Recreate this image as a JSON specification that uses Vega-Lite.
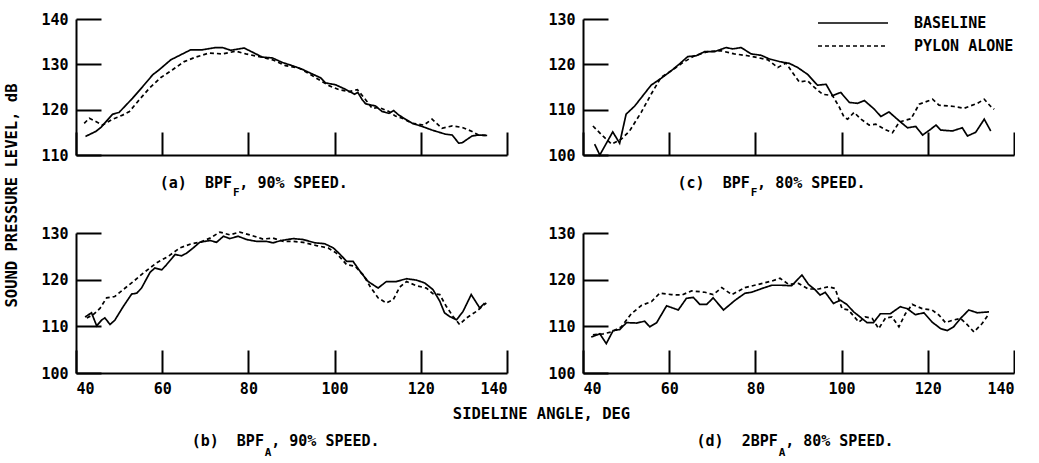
{
 "$schema": "https://vega.github.io/schema/vega-lite/v6.json",
 "background": "white",
 "padding": {"left": 4, "top": 12, "right": 0, "bottom": 0},
 "config": {
  "view": {"stroke": null},
  "font": "DejaVu Sans Mono",
  "axis": {"domainColor": "black", "domainWidth": 2, "tickColor": "black", "tickWidth": 2, "labelColor": "black", "labelFont": "DejaVu Sans Mono", "labelFontSize": 15, "labelFontWeight": "bold", "grid": false, "titleColor": "black", "titleFont": "DejaVu Sans Mono", "titleFontSize": 15.5, "titleFontWeight": "bold"},
  "text": {"font": "DejaVu Sans Mono", "fontWeight": "bold", "fontSize": 15, "color": "black"}
 },
 "data": {"values": [
  {"p":"a","s":"BASELINE","x":42.2,"y":114.1},{"p":"a","s":"BASELINE","x":44.6,"y":115.2},{"p":"a","s":"BASELINE","x":45.8,"y":116.1},{"p":"a","s":"BASELINE","x":48.5,"y":119.0},{"p":"a","s":"BASELINE","x":50.0,"y":119.4},{"p":"a","s":"BASELINE","x":53.1,"y":122.5},{"p":"a","s":"BASELINE","x":55.4,"y":125.0},{"p":"a","s":"BASELINE","x":57.8,"y":127.7},{"p":"a","s":"BASELINE","x":59.3,"y":128.8},{"p":"a","s":"BASELINE","x":62.0,"y":131.0},{"p":"a","s":"BASELINE","x":64.3,"y":132.1},{"p":"a","s":"BASELINE","x":66.6,"y":133.2},{"p":"a","s":"BASELINE","x":69.3,"y":133.2},{"p":"a","s":"BASELINE","x":72.4,"y":133.7},{"p":"a","s":"BASELINE","x":74.0,"y":133.7},{"p":"a","s":"BASELINE","x":75.9,"y":133.1},{"p":"a","s":"BASELINE","x":79.0,"y":133.6},{"p":"a","s":"BASELINE","x":80.9,"y":132.7},{"p":"a","s":"BASELINE","x":83.2,"y":131.6},{"p":"a","s":"BASELINE","x":85.6,"y":131.4},{"p":"a","s":"BASELINE","x":87.9,"y":130.4},{"p":"a","s":"BASELINE","x":90.2,"y":129.7},{"p":"a","s":"BASELINE","x":92.5,"y":128.9},{"p":"a","s":"BASELINE","x":95.2,"y":127.7},{"p":"a","s":"BASELINE","x":96.8,"y":127.0},{"p":"a","s":"BASELINE","x":97.9,"y":125.9},{"p":"a","s":"BASELINE","x":100.2,"y":125.5},{"p":"a","s":"BASELINE","x":102.5,"y":124.5},{"p":"a","s":"BASELINE","x":104.6,"y":123.4},{"p":"a","s":"BASELINE","x":105.4,"y":123.8},{"p":"a","s":"BASELINE","x":106.4,"y":122.2},{"p":"a","s":"BASELINE","x":107.2,"y":121.3},{"p":"a","s":"BASELINE","x":109.5,"y":120.8},{"p":"a","s":"BASELINE","x":111.0,"y":119.6},{"p":"a","s":"BASELINE","x":112.6,"y":119.2},{"p":"a","s":"BASELINE","x":113.7,"y":119.8},{"p":"a","s":"BASELINE","x":114.9,"y":118.8},{"p":"a","s":"BASELINE","x":118.0,"y":117.0},{"p":"a","s":"BASELINE","x":120.3,"y":116.3},{"p":"a","s":"BASELINE","x":122.6,"y":115.5},{"p":"a","s":"BASELINE","x":125.7,"y":114.6},{"p":"a","s":"BASELINE","x":127.3,"y":114.4},{"p":"a","s":"BASELINE","x":128.8,"y":112.6},{"p":"a","s":"BASELINE","x":129.6,"y":112.7},{"p":"a","s":"BASELINE","x":131.9,"y":114.2},{"p":"a","s":"BASELINE","x":133.4,"y":114.4},{"p":"a","s":"BASELINE","x":135.4,"y":114.3},
  {"p":"a","s":"PYLON ALONE","x":41.9,"y":117.0},{"p":"a","s":"PYLON ALONE","x":43.1,"y":118.1},{"p":"a","s":"PYLON ALONE","x":44.6,"y":117.4},{"p":"a","s":"PYLON ALONE","x":46.2,"y":116.6},{"p":"a","s":"PYLON ALONE","x":48.5,"y":117.9},{"p":"a","s":"PYLON ALONE","x":50.8,"y":118.8},{"p":"a","s":"PYLON ALONE","x":52.4,"y":119.6},{"p":"a","s":"PYLON ALONE","x":54.7,"y":122.2},{"p":"a","s":"PYLON ALONE","x":57.0,"y":124.7},{"p":"a","s":"PYLON ALONE","x":59.7,"y":127.1},{"p":"a","s":"PYLON ALONE","x":62.4,"y":128.8},{"p":"a","s":"PYLON ALONE","x":65.1,"y":130.6},{"p":"a","s":"PYLON ALONE","x":67.8,"y":131.6},{"p":"a","s":"PYLON ALONE","x":70.9,"y":132.5},{"p":"a","s":"PYLON ALONE","x":74.0,"y":132.3},{"p":"a","s":"PYLON ALONE","x":77.1,"y":132.9},{"p":"a","s":"PYLON ALONE","x":79.4,"y":132.3},{"p":"a","s":"PYLON ALONE","x":82.5,"y":131.7},{"p":"a","s":"PYLON ALONE","x":85.6,"y":131.0},{"p":"a","s":"PYLON ALONE","x":88.6,"y":129.7},{"p":"a","s":"PYLON ALONE","x":91.7,"y":129.2},{"p":"a","s":"PYLON ALONE","x":94.1,"y":127.9},{"p":"a","s":"PYLON ALONE","x":96.4,"y":126.6},{"p":"a","s":"PYLON ALONE","x":98.7,"y":125.3},{"p":"a","s":"PYLON ALONE","x":101.0,"y":124.4},{"p":"a","s":"PYLON ALONE","x":103.3,"y":124.0},{"p":"a","s":"PYLON ALONE","x":105.3,"y":124.4},{"p":"a","s":"PYLON ALONE","x":107.2,"y":122.2},{"p":"a","s":"PYLON ALONE","x":108.7,"y":120.3},{"p":"a","s":"PYLON ALONE","x":110.3,"y":120.5},{"p":"a","s":"PYLON ALONE","x":112.6,"y":119.6},{"p":"a","s":"PYLON ALONE","x":114.1,"y":118.6},{"p":"a","s":"PYLON ALONE","x":115.7,"y":118.1},{"p":"a","s":"PYLON ALONE","x":118.0,"y":117.0},{"p":"a","s":"PYLON ALONE","x":120.7,"y":116.6},{"p":"a","s":"PYLON ALONE","x":122.6,"y":117.9},{"p":"a","s":"PYLON ALONE","x":124.9,"y":115.9},{"p":"a","s":"PYLON ALONE","x":127.3,"y":116.4},{"p":"a","s":"PYLON ALONE","x":129.6,"y":116.1},{"p":"a","s":"PYLON ALONE","x":131.9,"y":115.2},{"p":"a","s":"PYLON ALONE","x":133.4,"y":114.4},{"p":"a","s":"PYLON ALONE","x":135.4,"y":114.3},
  {"p":"c","s":"BASELINE","x":42.7,"y":102.4},{"p":"c","s":"BASELINE","x":43.9,"y":100.0},{"p":"c","s":"BASELINE","x":46.9,"y":105.1},{"p":"c","s":"BASELINE","x":48.5,"y":102.6},{"p":"c","s":"BASELINE","x":50.0,"y":109.0},{"p":"c","s":"BASELINE","x":52.0,"y":110.8},{"p":"c","s":"BASELINE","x":53.9,"y":113.1},{"p":"c","s":"BASELINE","x":55.8,"y":115.4},{"p":"c","s":"BASELINE","x":58.1,"y":116.9},{"p":"c","s":"BASELINE","x":60.5,"y":118.6},{"p":"c","s":"BASELINE","x":62.4,"y":120.1},{"p":"c","s":"BASELINE","x":64.3,"y":121.7},{"p":"c","s":"BASELINE","x":66.3,"y":121.9},{"p":"c","s":"BASELINE","x":68.2,"y":122.8},{"p":"c","s":"BASELINE","x":70.5,"y":122.8},{"p":"c","s":"BASELINE","x":73.2,"y":123.7},{"p":"c","s":"BASELINE","x":74.7,"y":123.4},{"p":"c","s":"BASELINE","x":76.7,"y":123.7},{"p":"c","s":"BASELINE","x":79.0,"y":122.3},{"p":"c","s":"BASELINE","x":81.3,"y":122.0},{"p":"c","s":"BASELINE","x":83.2,"y":121.2},{"p":"c","s":"BASELINE","x":85.6,"y":120.6},{"p":"c","s":"BASELINE","x":87.9,"y":120.2},{"p":"c","s":"BASELINE","x":89.8,"y":119.3},{"p":"c","s":"BASELINE","x":92.1,"y":117.8},{"p":"c","s":"BASELINE","x":94.4,"y":115.4},{"p":"c","s":"BASELINE","x":96.4,"y":115.6},{"p":"c","s":"BASELINE","x":97.9,"y":113.1},{"p":"c","s":"BASELINE","x":99.8,"y":113.8},{"p":"c","s":"BASELINE","x":101.8,"y":111.6},{"p":"c","s":"BASELINE","x":103.7,"y":111.4},{"p":"c","s":"BASELINE","x":105.3,"y":112.0},{"p":"c","s":"BASELINE","x":107.6,"y":110.1},{"p":"c","s":"BASELINE","x":109.1,"y":108.5},{"p":"c","s":"BASELINE","x":111.0,"y":109.5},{"p":"c","s":"BASELINE","x":113.4,"y":107.5},{"p":"c","s":"BASELINE","x":115.3,"y":106.0},{"p":"c","s":"BASELINE","x":117.2,"y":106.3},{"p":"c","s":"BASELINE","x":118.8,"y":104.4},{"p":"c","s":"BASELINE","x":120.7,"y":105.7},{"p":"c","s":"BASELINE","x":121.9,"y":106.6},{"p":"c","s":"BASELINE","x":123.0,"y":105.5},{"p":"c","s":"BASELINE","x":125.7,"y":105.3},{"p":"c","s":"BASELINE","x":128.0,"y":106.0},{"p":"c","s":"BASELINE","x":129.2,"y":104.2},{"p":"c","s":"BASELINE","x":131.1,"y":105.0},{"p":"c","s":"BASELINE","x":133.1,"y":107.9},{"p":"c","s":"BASELINE","x":134.6,"y":105.3},
  {"p":"c","s":"PYLON ALONE","x":42.3,"y":106.4},{"p":"c","s":"PYLON ALONE","x":44.6,"y":104.2},{"p":"c","s":"PYLON ALONE","x":46.6,"y":102.4},{"p":"c","s":"PYLON ALONE","x":48.9,"y":103.5},{"p":"c","s":"PYLON ALONE","x":50.8,"y":105.3},{"p":"c","s":"PYLON ALONE","x":53.5,"y":109.4},{"p":"c","s":"PYLON ALONE","x":55.8,"y":113.4},{"p":"c","s":"PYLON ALONE","x":58.1,"y":117.1},{"p":"c","s":"PYLON ALONE","x":60.5,"y":118.6},{"p":"c","s":"PYLON ALONE","x":63.2,"y":120.4},{"p":"c","s":"PYLON ALONE","x":65.9,"y":121.9},{"p":"c","s":"PYLON ALONE","x":69.0,"y":122.8},{"p":"c","s":"PYLON ALONE","x":72.0,"y":123.0},{"p":"c","s":"PYLON ALONE","x":75.1,"y":122.3},{"p":"c","s":"PYLON ALONE","x":78.2,"y":121.9},{"p":"c","s":"PYLON ALONE","x":80.5,"y":121.5},{"p":"c","s":"PYLON ALONE","x":82.9,"y":121.0},{"p":"c","s":"PYLON ALONE","x":85.2,"y":119.3},{"p":"c","s":"PYLON ALONE","x":87.1,"y":120.3},{"p":"c","s":"PYLON ALONE","x":88.6,"y":118.2},{"p":"c","s":"PYLON ALONE","x":90.2,"y":116.1},{"p":"c","s":"PYLON ALONE","x":92.1,"y":116.4},{"p":"c","s":"PYLON ALONE","x":93.7,"y":114.9},{"p":"c","s":"PYLON ALONE","x":95.6,"y":113.4},{"p":"c","s":"PYLON ALONE","x":97.9,"y":113.1},{"p":"c","s":"PYLON ALONE","x":99.5,"y":110.5},{"p":"c","s":"PYLON ALONE","x":100.6,"y":108.3},{"p":"c","s":"PYLON ALONE","x":101.4,"y":107.9},{"p":"c","s":"PYLON ALONE","x":102.9,"y":109.4},{"p":"c","s":"PYLON ALONE","x":104.5,"y":107.9},{"p":"c","s":"PYLON ALONE","x":106.4,"y":106.6},{"p":"c","s":"PYLON ALONE","x":107.9,"y":106.8},{"p":"c","s":"PYLON ALONE","x":109.9,"y":105.7},{"p":"c","s":"PYLON ALONE","x":111.8,"y":104.9},{"p":"c","s":"PYLON ALONE","x":113.4,"y":107.3},{"p":"c","s":"PYLON ALONE","x":116.1,"y":108.0},{"p":"c","s":"PYLON ALONE","x":118.0,"y":111.2},{"p":"c","s":"PYLON ALONE","x":121.1,"y":112.3},{"p":"c","s":"PYLON ALONE","x":122.6,"y":111.0},{"p":"c","s":"PYLON ALONE","x":126.1,"y":110.7},{"p":"c","s":"PYLON ALONE","x":128.4,"y":110.3},{"p":"c","s":"PYLON ALONE","x":131.5,"y":111.4},{"p":"c","s":"PYLON ALONE","x":133.1,"y":112.3},{"p":"c","s":"PYLON ALONE","x":134.6,"y":110.7},{"p":"c","s":"PYLON ALONE","x":135.4,"y":110.1},
  {"p":"b","s":"BASELINE","x":42.1,"y":112.0},{"p":"b","s":"BASELINE","x":43.6,"y":112.9},{"p":"b","s":"BASELINE","x":44.8,"y":110.1},{"p":"b","s":"BASELINE","x":46.0,"y":111.4},{"p":"b","s":"BASELINE","x":46.7,"y":111.8},{"p":"b","s":"BASELINE","x":47.9,"y":110.4},{"p":"b","s":"BASELINE","x":49.0,"y":111.3},{"p":"b","s":"BASELINE","x":51.0,"y":114.3},{"p":"b","s":"BASELINE","x":52.9,"y":116.9},{"p":"b","s":"BASELINE","x":54.1,"y":117.1},{"p":"b","s":"BASELINE","x":55.2,"y":118.2},{"p":"b","s":"BASELINE","x":57.2,"y":121.6},{"p":"b","s":"BASELINE","x":58.3,"y":122.5},{"p":"b","s":"BASELINE","x":59.9,"y":122.1},{"p":"b","s":"BASELINE","x":61.0,"y":123.2},{"p":"b","s":"BASELINE","x":63.0,"y":125.4},{"p":"b","s":"BASELINE","x":64.5,"y":125.1},{"p":"b","s":"BASELINE","x":65.7,"y":125.7},{"p":"b","s":"BASELINE","x":67.2,"y":126.8},{"p":"b","s":"BASELINE","x":68.7,"y":128.0},{"p":"b","s":"BASELINE","x":71.1,"y":128.4},{"p":"b","s":"BASELINE","x":72.6,"y":128.0},{"p":"b","s":"BASELINE","x":74.2,"y":129.3},{"p":"b","s":"BASELINE","x":75.7,"y":128.8},{"p":"b","s":"BASELINE","x":77.6,"y":129.3},{"p":"b","s":"BASELINE","x":79.6,"y":128.6},{"p":"b","s":"BASELINE","x":81.9,"y":128.2},{"p":"b","s":"BASELINE","x":84.2,"y":128.2},{"p":"b","s":"BASELINE","x":85.7,"y":127.9},{"p":"b","s":"BASELINE","x":87.7,"y":128.4},{"p":"b","s":"BASELINE","x":90.4,"y":128.8},{"p":"b","s":"BASELINE","x":92.7,"y":128.6},{"p":"b","s":"BASELINE","x":95.4,"y":127.9},{"p":"b","s":"BASELINE","x":97.7,"y":127.7},{"p":"b","s":"BASELINE","x":99.7,"y":126.8},{"p":"b","s":"BASELINE","x":101.2,"y":125.5},{"p":"b","s":"BASELINE","x":102.8,"y":123.9},{"p":"b","s":"BASELINE","x":104.3,"y":123.9},{"p":"b","s":"BASELINE","x":106.2,"y":121.4},{"p":"b","s":"BASELINE","x":107.8,"y":119.6},{"p":"b","s":"BASELINE","x":110.1,"y":118.2},{"p":"b","s":"BASELINE","x":112.0,"y":119.6},{"p":"b","s":"BASELINE","x":114.3,"y":119.6},{"p":"b","s":"BASELINE","x":116.7,"y":120.2},{"p":"b","s":"BASELINE","x":119.0,"y":119.9},{"p":"b","s":"BASELINE","x":120.9,"y":119.3},{"p":"b","s":"BASELINE","x":122.8,"y":117.9},{"p":"b","s":"BASELINE","x":124.4,"y":115.4},{"p":"b","s":"BASELINE","x":125.5,"y":112.9},{"p":"b","s":"BASELINE","x":126.7,"y":112.1},{"p":"b","s":"BASELINE","x":128.3,"y":111.4},{"p":"b","s":"BASELINE","x":129.8,"y":113.2},{"p":"b","s":"BASELINE","x":131.7,"y":116.8},{"p":"b","s":"BASELINE","x":133.7,"y":113.9},{"p":"b","s":"BASELINE","x":134.8,"y":115.0},
  {"p":"b","s":"PYLON ALONE","x":42.5,"y":111.8},{"p":"b","s":"PYLON ALONE","x":44.0,"y":112.5},{"p":"b","s":"PYLON ALONE","x":45.6,"y":113.9},{"p":"b","s":"PYLON ALONE","x":47.1,"y":116.1},{"p":"b","s":"PYLON ALONE","x":49.0,"y":116.4},{"p":"b","s":"PYLON ALONE","x":51.0,"y":117.9},{"p":"b","s":"PYLON ALONE","x":53.3,"y":119.6},{"p":"b","s":"PYLON ALONE","x":55.6,"y":121.4},{"p":"b","s":"PYLON ALONE","x":58.7,"y":123.6},{"p":"b","s":"PYLON ALONE","x":61.4,"y":125.0},{"p":"b","s":"PYLON ALONE","x":64.1,"y":126.8},{"p":"b","s":"PYLON ALONE","x":66.8,"y":127.7},{"p":"b","s":"PYLON ALONE","x":68.7,"y":128.0},{"p":"b","s":"PYLON ALONE","x":71.1,"y":128.9},{"p":"b","s":"PYLON ALONE","x":73.4,"y":130.2},{"p":"b","s":"PYLON ALONE","x":75.7,"y":129.6},{"p":"b","s":"PYLON ALONE","x":78.0,"y":130.2},{"p":"b","s":"PYLON ALONE","x":80.3,"y":129.6},{"p":"b","s":"PYLON ALONE","x":83.4,"y":128.7},{"p":"b","s":"PYLON ALONE","x":85.7,"y":128.9},{"p":"b","s":"PYLON ALONE","x":88.1,"y":128.2},{"p":"b","s":"PYLON ALONE","x":90.4,"y":128.2},{"p":"b","s":"PYLON ALONE","x":92.7,"y":128.0},{"p":"b","s":"PYLON ALONE","x":95.8,"y":127.3},{"p":"b","s":"PYLON ALONE","x":98.5,"y":126.8},{"p":"b","s":"PYLON ALONE","x":100.4,"y":125.7},{"p":"b","s":"PYLON ALONE","x":102.8,"y":123.2},{"p":"b","s":"PYLON ALONE","x":104.7,"y":122.9},{"p":"b","s":"PYLON ALONE","x":106.6,"y":121.1},{"p":"b","s":"PYLON ALONE","x":108.2,"y":118.6},{"p":"b","s":"PYLON ALONE","x":110.1,"y":116.1},{"p":"b","s":"PYLON ALONE","x":112.0,"y":115.0},{"p":"b","s":"PYLON ALONE","x":113.6,"y":115.7},{"p":"b","s":"PYLON ALONE","x":115.1,"y":118.4},{"p":"b","s":"PYLON ALONE","x":116.7,"y":119.6},{"p":"b","s":"PYLON ALONE","x":119.0,"y":118.7},{"p":"b","s":"PYLON ALONE","x":121.3,"y":118.2},{"p":"b","s":"PYLON ALONE","x":122.8,"y":117.0},{"p":"b","s":"PYLON ALONE","x":124.4,"y":116.8},{"p":"b","s":"PYLON ALONE","x":125.9,"y":114.3},{"p":"b","s":"PYLON ALONE","x":127.5,"y":112.1},{"p":"b","s":"PYLON ALONE","x":129.0,"y":110.4},{"p":"b","s":"PYLON ALONE","x":130.6,"y":111.8},{"p":"b","s":"PYLON ALONE","x":132.9,"y":113.2},{"p":"b","s":"PYLON ALONE","x":135.2,"y":115.0},
  {"p":"d","s":"BASELINE","x":41.9,"y":107.7},{"p":"d","s":"BASELINE","x":43.9,"y":108.4},{"p":"d","s":"BASELINE","x":45.4,"y":106.3},{"p":"d","s":"BASELINE","x":47.0,"y":109.1},{"p":"d","s":"BASELINE","x":48.5,"y":109.3},{"p":"d","s":"BASELINE","x":50.1,"y":110.8},{"p":"d","s":"BASELINE","x":52.4,"y":110.7},{"p":"d","s":"BASELINE","x":54.3,"y":111.1},{"p":"d","s":"BASELINE","x":55.5,"y":109.9},{"p":"d","s":"BASELINE","x":57.1,"y":110.8},{"p":"d","s":"BASELINE","x":59.4,"y":114.4},{"p":"d","s":"BASELINE","x":62.1,"y":113.5},{"p":"d","s":"BASELINE","x":64.0,"y":116.0},{"p":"d","s":"BASELINE","x":65.6,"y":116.2},{"p":"d","s":"BASELINE","x":67.1,"y":114.7},{"p":"d","s":"BASELINE","x":68.7,"y":114.7},{"p":"d","s":"BASELINE","x":70.2,"y":116.1},{"p":"d","s":"BASELINE","x":72.6,"y":113.5},{"p":"d","s":"BASELINE","x":75.3,"y":115.6},{"p":"d","s":"BASELINE","x":77.6,"y":117.1},{"p":"d","s":"BASELINE","x":79.1,"y":117.3},{"p":"d","s":"BASELINE","x":81.5,"y":118.1},{"p":"d","s":"BASELINE","x":83.8,"y":118.8},{"p":"d","s":"BASELINE","x":86.1,"y":118.8},{"p":"d","s":"BASELINE","x":88.4,"y":118.7},{"p":"d","s":"BASELINE","x":90.8,"y":121.0},{"p":"d","s":"BASELINE","x":92.3,"y":119.0},{"p":"d","s":"BASELINE","x":93.9,"y":117.8},{"p":"d","s":"BASELINE","x":95.0,"y":116.7},{"p":"d","s":"BASELINE","x":96.2,"y":117.3},{"p":"d","s":"BASELINE","x":98.1,"y":114.9},{"p":"d","s":"BASELINE","x":99.7,"y":115.6},{"p":"d","s":"BASELINE","x":101.2,"y":114.7},{"p":"d","s":"BASELINE","x":102.8,"y":113.1},{"p":"d","s":"BASELINE","x":104.3,"y":112.0},{"p":"d","s":"BASELINE","x":105.9,"y":110.8},{"p":"d","s":"BASELINE","x":107.4,"y":110.8},{"p":"d","s":"BASELINE","x":109.0,"y":112.7},{"p":"d","s":"BASELINE","x":111.3,"y":112.7},{"p":"d","s":"BASELINE","x":113.6,"y":114.2},{"p":"d","s":"BASELINE","x":115.2,"y":113.8},{"p":"d","s":"BASELINE","x":117.1,"y":112.5},{"p":"d","s":"BASELINE","x":119.1,"y":112.9},{"p":"d","s":"BASELINE","x":121.0,"y":110.9},{"p":"d","s":"BASELINE","x":123.0,"y":109.5},{"p":"d","s":"BASELINE","x":124.5,"y":109.1},{"p":"d","s":"BASELINE","x":126.0,"y":109.9},{"p":"d","s":"BASELINE","x":127.6,"y":111.7},{"p":"d","s":"BASELINE","x":129.5,"y":113.5},{"p":"d","s":"BASELINE","x":131.5,"y":112.9},{"p":"d","s":"BASELINE","x":134.2,"y":113.1},
  {"p":"d","s":"PYLON ALONE","x":42.3,"y":108.2},{"p":"d","s":"PYLON ALONE","x":44.7,"y":108.4},{"p":"d","s":"PYLON ALONE","x":46.6,"y":108.8},{"p":"d","s":"PYLON ALONE","x":48.9,"y":109.9},{"p":"d","s":"PYLON ALONE","x":51.2,"y":112.7},{"p":"d","s":"PYLON ALONE","x":53.6,"y":114.5},{"p":"d","s":"PYLON ALONE","x":55.9,"y":115.3},{"p":"d","s":"PYLON ALONE","x":57.8,"y":117.1},{"p":"d","s":"PYLON ALONE","x":60.5,"y":116.8},{"p":"d","s":"PYLON ALONE","x":62.9,"y":116.7},{"p":"d","s":"PYLON ALONE","x":65.2,"y":117.6},{"p":"d","s":"PYLON ALONE","x":68.3,"y":117.3},{"p":"d","s":"PYLON ALONE","x":70.2,"y":116.8},{"p":"d","s":"PYLON ALONE","x":72.2,"y":118.3},{"p":"d","s":"PYLON ALONE","x":74.5,"y":116.8},{"p":"d","s":"PYLON ALONE","x":77.6,"y":118.3},{"p":"d","s":"PYLON ALONE","x":80.7,"y":119.0},{"p":"d","s":"PYLON ALONE","x":83.8,"y":119.7},{"p":"d","s":"PYLON ALONE","x":85.7,"y":120.3},{"p":"d","s":"PYLON ALONE","x":87.7,"y":119.0},{"p":"d","s":"PYLON ALONE","x":90.0,"y":119.2},{"p":"d","s":"PYLON ALONE","x":92.3,"y":118.0},{"p":"d","s":"PYLON ALONE","x":94.7,"y":118.0},{"p":"d","s":"PYLON ALONE","x":97.0,"y":118.5},{"p":"d","s":"PYLON ALONE","x":98.5,"y":118.1},{"p":"d","s":"PYLON ALONE","x":100.1,"y":113.8},{"p":"d","s":"PYLON ALONE","x":101.6,"y":113.5},{"p":"d","s":"PYLON ALONE","x":104.0,"y":110.9},{"p":"d","s":"PYLON ALONE","x":105.5,"y":112.0},{"p":"d","s":"PYLON ALONE","x":107.1,"y":111.7},{"p":"d","s":"PYLON ALONE","x":108.6,"y":109.5},{"p":"d","s":"PYLON ALONE","x":110.2,"y":111.8},{"p":"d","s":"PYLON ALONE","x":111.7,"y":112.0},{"p":"d","s":"PYLON ALONE","x":113.3,"y":109.9},{"p":"d","s":"PYLON ALONE","x":114.8,"y":112.7},{"p":"d","s":"PYLON ALONE","x":116.4,"y":114.7},{"p":"d","s":"PYLON ALONE","x":118.7,"y":113.8},{"p":"d","s":"PYLON ALONE","x":121.0,"y":113.5},{"p":"d","s":"PYLON ALONE","x":122.6,"y":112.4},{"p":"d","s":"PYLON ALONE","x":124.1,"y":110.8},{"p":"d","s":"PYLON ALONE","x":125.7,"y":111.3},{"p":"d","s":"PYLON ALONE","x":127.6,"y":111.7},{"p":"d","s":"PYLON ALONE","x":129.1,"y":110.4},{"p":"d","s":"PYLON ALONE","x":130.7,"y":108.8},{"p":"d","s":"PYLON ALONE","x":132.6,"y":110.6},{"p":"d","s":"PYLON ALONE","x":134.2,"y":112.7}
 ]},
 "columns": 2,
 "spacing": {"row": 78, "column": 76},
 "bounds": "flush",
 "resolve": {"scale": {"strokeDash": "independent"}, "legend": {"strokeDash": "independent"}},
 "concat": [
    {
     "width": 431, "height": 136,
     "layer": [
      {
       "transform": [{"filter": "datum.p == 'a'"}],
       "mark": {"type": "line", "color": "black", "strokeWidth": 1.7},
       "encoding": {
        "x": {"field": "x", "type": "quantitative", "scale": {"domain": [40, 140], "nice": false, "zero": false}, "axis": {"values": [40, 60, 80, 100, 120, 140], "tickSize": -23, "labels": false, "title": null}},
        "y": {"field": "y", "type": "quantitative", "scale": {"domain": [110, 140], "nice": false, "zero": false}, "axis": {"values": [110, 120, 130, 140], "tickSize": -25, "labelPadding": 33, "title": "SOUND PRESSURE LEVEL, dB", "titleX": -65, "titleY": 176, "titleBaseline": "middle", "titleAlign": "center", "titleAngle": 270}},
        "strokeDash": {"field": "s", "type": "nominal", "scale": {"domain": ["BASELINE", "PYLON ALONE"], "range": [[1, 0], [4, 3]]}, "legend": null}
       }
      },
      {"data": {"values": [{"t": "(a)\u00a0 BPF"}]}, "mark": {"type": "text", "align": "right", "baseline": "alphabetic"}, "encoding": {"x": {"datum": 76.2, "type": "quantitative"}, "y": {"datum": 102.7, "type": "quantitative"}, "text": {"field": "t"}}},
      {"data": {"values": [{"t": "F"}]}, "mark": {"type": "text", "align": "left", "baseline": "alphabetic", "fontSize": 11}, "encoding": {"x": {"datum": 76.4, "type": "quantitative"}, "y": {"datum": 101.0, "type": "quantitative"}, "text": {"field": "t"}}},
      {"data": {"values": [{"t": ", 90% SPEED."}]}, "mark": {"type": "text", "align": "left", "baseline": "alphabetic"}, "encoding": {"x": {"datum": 77.9, "type": "quantitative"}, "y": {"datum": 102.7, "type": "quantitative"}, "text": {"field": "t"}}}
     ]
    },
    {
     "width": 431, "height": 136,
     "layer": [
      {
       "transform": [{"filter": "datum.p == 'c'"}],
       "mark": {"type": "line", "color": "black", "strokeWidth": 1.7},
       "encoding": {
        "x": {"field": "x", "type": "quantitative", "scale": {"domain": [40, 140], "nice": false, "zero": false}, "axis": {"values": [40, 60, 80, 100, 120, 140], "tickSize": -23, "labels": false, "title": null}},
        "y": {"field": "y", "type": "quantitative", "scale": {"domain": [100, 130], "nice": false, "zero": false}, "axis": {"values": [100, 110, 120, 130], "tickSize": -25, "labelPadding": 33, "title": null}},
        "strokeDash": {"field": "s", "type": "nominal", "scale": {"domain": ["BASELINE", "PYLON ALONE"], "range": [[1, 0], [4, 3]]}, "legend": {"title": null, "orient": "none", "legendX": 234, "legendY": -4, "direction": "vertical", "symbolType": "stroke", "symbolSize": 4900, "symbolStrokeWidth": 1.6, "symbolStrokeColor": "black", "clipHeight": 16, "rowPadding": 7, "labelOffset": 25, "labelFont": "DejaVu Sans Mono", "labelFontSize": 15, "labelFontWeight": "bold", "labelColor": "black", "padding": 0}}
       }
      },
      {"data": {"values": [{"t": "(c)\u00a0 BPF"}]}, "mark": {"type": "text", "align": "right", "baseline": "alphabetic"}, "encoding": {"x": {"datum": 78.7, "type": "quantitative"}, "y": {"datum": 92.7, "type": "quantitative"}, "text": {"field": "t"}}},
      {"data": {"values": [{"t": "F"}]}, "mark": {"type": "text", "align": "left", "baseline": "alphabetic", "fontSize": 11}, "encoding": {"x": {"datum": 78.9, "type": "quantitative"}, "y": {"datum": 91.0, "type": "quantitative"}, "text": {"field": "t"}}},
      {"data": {"values": [{"t": ", 80% SPEED."}]}, "mark": {"type": "text", "align": "left", "baseline": "alphabetic"}, "encoding": {"x": {"datum": 80.4, "type": "quantitative"}, "y": {"datum": 92.7, "type": "quantitative"}, "text": {"field": "t"}}}
     ]
    },
    {
     "width": 431, "height": 140,
     "layer": [
      {
       "transform": [{"filter": "datum.p == 'b'"}],
       "mark": {"type": "line", "color": "black", "strokeWidth": 1.7},
       "encoding": {
        "x": {"field": "x", "type": "quantitative", "scale": {"domain": [40, 140], "nice": false, "zero": false}, "axis": {"values": [40, 60, 80, 100, 120, 140], "tickSize": -23, "labelPadding": 31, "title": "SIDELINE ANGLE, DEG", "titleX": 465, "titleY": 40, "titleBaseline": "middle", "titleAlign": "center"}},
        "y": {"field": "y", "type": "quantitative", "scale": {"domain": [100, 130], "nice": false, "zero": false}, "axis": {"values": [100, 110, 120, 130], "tickSize": -25, "labelPadding": 33, "title": null}},
        "strokeDash": {"field": "s", "type": "nominal", "scale": {"domain": ["BASELINE", "PYLON ALONE"], "range": [[1, 0], [4, 3]]}, "legend": null}
       }
      },
      {"data": {"values": [{"t": "(b)\u00a0 BPF"}]}, "mark": {"type": "text", "align": "right", "baseline": "alphabetic"}, "encoding": {"x": {"datum": 83.6, "type": "quantitative"}, "y": {"datum": 84.4, "type": "quantitative"}, "text": {"field": "t"}}},
      {"data": {"values": [{"t": "A"}]}, "mark": {"type": "text", "align": "left", "baseline": "alphabetic", "fontSize": 11}, "encoding": {"x": {"datum": 83.8, "type": "quantitative"}, "y": {"datum": 82.3, "type": "quantitative"}, "text": {"field": "t"}}},
      {"data": {"values": [{"t": ", 90% SPEED."}]}, "mark": {"type": "text", "align": "left", "baseline": "alphabetic"}, "encoding": {"x": {"datum": 85.3, "type": "quantitative"}, "y": {"datum": 84.4, "type": "quantitative"}, "text": {"field": "t"}}}
     ]
    },
    {
     "width": 431, "height": 140,
     "layer": [
      {
       "transform": [{"filter": "datum.p == 'd'"}],
       "mark": {"type": "line", "color": "black", "strokeWidth": 1.7},
       "encoding": {
        "x": {"field": "x", "type": "quantitative", "scale": {"domain": [40, 140], "nice": false, "zero": false}, "axis": {"values": [40, 60, 80, 100, 120, 140], "tickSize": -23, "labelPadding": 31, "title": null}},
        "y": {"field": "y", "type": "quantitative", "scale": {"domain": [100, 130], "nice": false, "zero": false}, "axis": {"values": [100, 110, 120, 130], "tickSize": -25, "labelPadding": 33, "title": null}},
        "strokeDash": {"field": "s", "type": "nominal", "scale": {"domain": ["BASELINE", "PYLON ALONE"], "range": [[1, 0], [4, 3]]}, "legend": null}
       }
      },
      {"data": {"values": [{"t": "(d)\u00a0 2BPF"}]}, "mark": {"type": "text", "align": "right", "baseline": "alphabetic"}, "encoding": {"x": {"datum": 85.2, "type": "quantitative"}, "y": {"datum": 84.4, "type": "quantitative"}, "text": {"field": "t"}}},
      {"data": {"values": [{"t": "A"}]}, "mark": {"type": "text", "align": "left", "baseline": "alphabetic", "fontSize": 11}, "encoding": {"x": {"datum": 85.4, "type": "quantitative"}, "y": {"datum": 82.3, "type": "quantitative"}, "text": {"field": "t"}}},
      {"data": {"values": [{"t": ", 80% SPEED."}]}, "mark": {"type": "text", "align": "left", "baseline": "alphabetic"}, "encoding": {"x": {"datum": 86.9, "type": "quantitative"}, "y": {"datum": 84.4, "type": "quantitative"}, "text": {"field": "t"}}}
     ]
    }
 ]
}
